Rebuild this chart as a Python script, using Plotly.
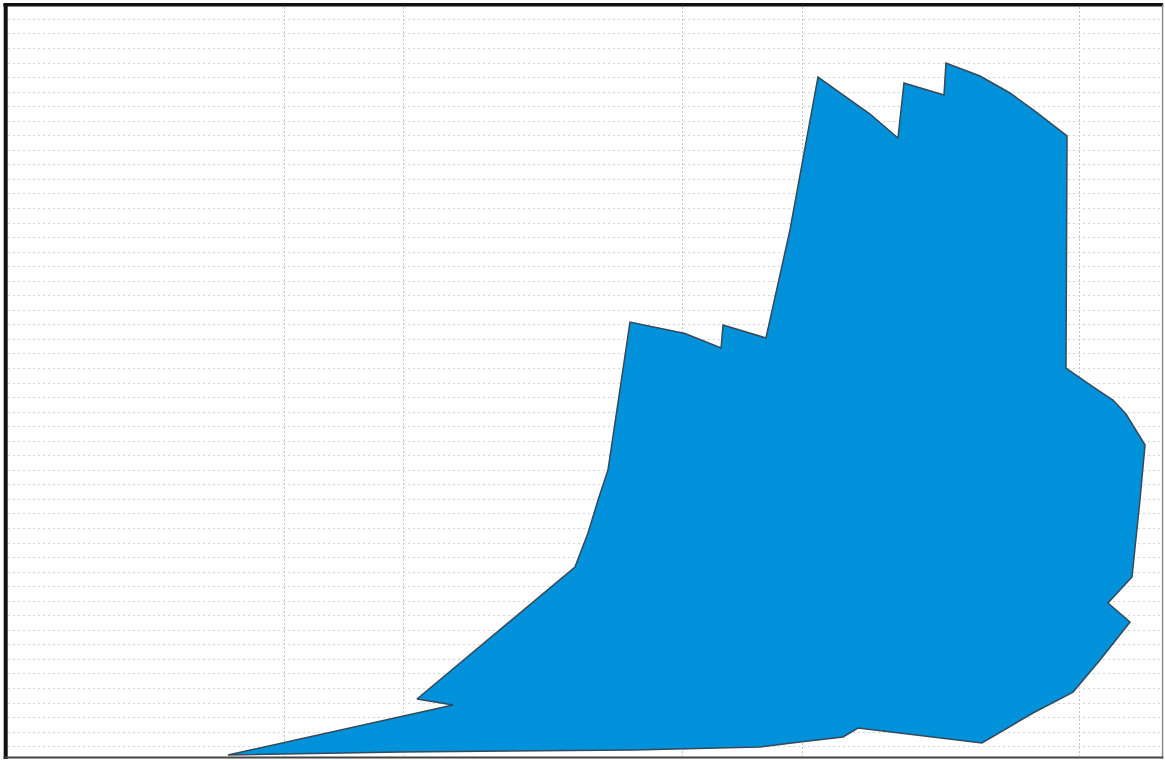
import plotly.graph_objects as go

# Polygon outline (data units, axes 0-100), traced clockwise from the lower-left tip
shape_x = [19.06, 38.56, 35.44, 49.13, 50.26, 51.13, 51.99, 52.34, 53.21, 53.90,
           58.67, 61.79, 61.96, 65.68, 67.76, 70.19, 74.70, 77.12, 77.64, 81.11,
           81.28, 84.23, 86.83, 88.99, 91.77, 91.68, 94.02, 95.75, 96.88, 98.53,
           98.09, 97.40, 95.32, 97.23, 94.63, 92.29, 88.82, 84.40, 73.66, 72.36,
           68.63, 65.16, 54.16, 33.97, 19.06]
shape_y = [0.13, 6.81, 7.61, 25.23, 29.77, 34.18, 38.18, 41.79, 50.60, 57.94,
           56.40, 54.47, 57.54, 55.81, 70.23, 90.65, 85.71, 82.51, 89.85, 88.25,
           92.52, 90.79, 88.52, 86.11, 82.78, 51.80, 49.27, 47.53, 45.66, 41.52,
           34.18, 23.90, 20.43, 17.89, 12.82, 8.54, 5.74, 1.74, 3.74, 2.54,
           1.87, 1.20, 0.80, 0.53, 0.13]

# Vertical grid positions
x_grid = [24.00, 34.23, 58.49, 68.89, 92.89]

fig = go.Figure()
fig.add_trace(go.Scatter(
    x=shape_x, y=shape_y, mode="lines", fill="toself",
    fillcolor="#0091DB",
    line=dict(color="#34495a", width=1.5),
    hoverinfo="skip", showlegend=False,
))

fig.update_layout(
    width=1165, height=760,
    margin=dict(l=8, r=3, t=7, b=4),
    paper_bgcolor="white", plot_bgcolor="white",
    showlegend=False,
    xaxis=dict(range=[0, 100], tickmode="array", tickvals=x_grid,
               showticklabels=False, ticks="", zeroline=False,
               showgrid=True, gridcolor="#c4c4c4", griddash="2px,2px", gridwidth=1),
    yaxis=dict(range=[0, 100], tick0=1.24, dtick=1.942,
               showticklabels=False, ticks="", zeroline=False,
               showgrid=True, gridcolor="#d4d4d4", griddash="2px,3px", gridwidth=1),
)

# Frame around the plot
frame = [
    dict(x0=-0.002, x1=-0.002, y0=-0.004, y1=1.004, color="#111111", width=4),
    dict(x0=-0.004, x1=1.001, y0=1.003, y1=1.003, color="#111111", width=3.5),
    dict(x0=1.0005, x1=1.0005, y0=-0.004, y1=1.003, color="#8a8a8a", width=1.5),
    dict(x0=-0.004, x1=1.001, y0=-0.002, y1=-0.002, color="#444444", width=2),
]
for f in frame:
    fig.add_shape(type="line", xref="paper", yref="paper",
                  x0=f["x0"], x1=f["x1"], y0=f["y0"], y1=f["y1"],
                  line=dict(color=f["color"], width=f["width"]), layer="above")

fig.write_html(
    "out.html",
    config={"displayModeBar": False, "staticPlot": True},
    post_script="document.body.style.margin='0';document.body.style.overflow='hidden';",
)
